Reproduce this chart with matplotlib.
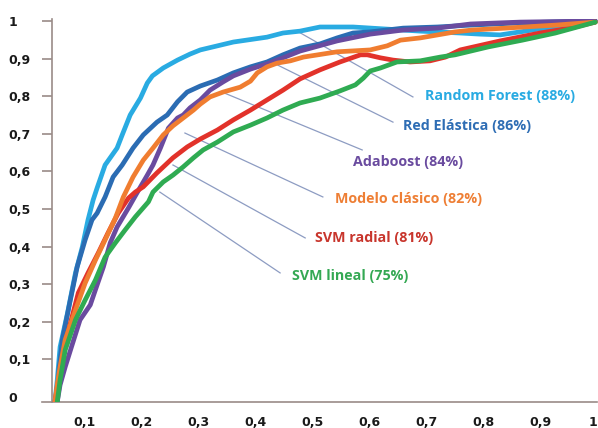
import matplotlib
matplotlib.use("Agg")
import matplotlib.pyplot as plt

# ROC curves (false positive rate, true positive rate)
rf_x = [0.049, 0.053, 0.058, 0.071, 0.085, 0.097, 0.107, 0.116, 0.123, 0.137, 0.158, 0.167, 0.181,
        0.199, 0.211, 0.220, 0.239, 0.264, 0.286, 0.304, 0.362, 0.421, 0.449, 0.479, 0.514, 0.572,
        0.625, 0.690, 0.760, 0.795, 0.830, 0.900, 0.997]
rf_y = [-0.013, 0.045, 0.133, 0.223, 0.330, 0.399, 0.471, 0.524, 0.556, 0.617, 0.662, 0.697, 0.750,
        0.795, 0.835, 0.854, 0.875, 0.896, 0.912, 0.923, 0.944, 0.957, 0.968, 0.973, 0.984, 0.984,
        0.979, 0.973, 0.968, 0.965, 0.963, 0.979, 0.997]

en_x = [0.053, 0.056, 0.062, 0.076, 0.088, 0.102, 0.114, 0.123, 0.137, 0.151, 0.167, 0.186, 0.204,
        0.228, 0.246, 0.264, 0.281, 0.304, 0.334, 0.362, 0.392, 0.421, 0.449, 0.479, 0.514, 0.544,
        0.572, 0.602, 0.660, 0.720, 0.778, 0.865, 0.997]
en_y = [-0.013, 0.072, 0.152, 0.258, 0.346, 0.418, 0.471, 0.489, 0.532, 0.585, 0.617, 0.662, 0.697,
        0.731, 0.750, 0.785, 0.811, 0.827, 0.843, 0.862, 0.878, 0.891, 0.910, 0.928, 0.939, 0.955,
        0.968, 0.971, 0.981, 0.984, 0.989, 0.995, 1.000]

ada_x = [0.053, 0.058, 0.067, 0.079, 0.093, 0.111, 0.120, 0.134, 0.146, 0.158, 0.178, 0.193, 0.211,
         0.221, 0.234, 0.248, 0.264, 0.274, 0.286, 0.304, 0.321, 0.344, 0.362, 0.392, 0.421, 0.449,
         0.479, 0.544, 0.602, 0.660, 0.720, 0.778, 0.865, 0.997]
ada_y = [-0.013, 0.032, 0.080, 0.138, 0.205, 0.245, 0.285, 0.346, 0.410, 0.452, 0.503, 0.543, 0.590,
         0.617, 0.662, 0.715, 0.742, 0.750, 0.769, 0.790, 0.816, 0.838, 0.854, 0.872, 0.886, 0.902,
         0.920, 0.947, 0.965, 0.976, 0.981, 0.992, 0.997, 1.000]

mc_x = [0.049, 0.053, 0.058, 0.067, 0.085, 0.102, 0.120, 0.137, 0.155, 0.169, 0.186, 0.204, 0.221,
        0.239, 0.256, 0.274, 0.292, 0.304, 0.321, 0.344, 0.374, 0.392, 0.404, 0.421, 0.439, 0.462,
        0.485, 0.544, 0.602, 0.632, 0.655, 0.690, 0.751, 0.781, 0.839, 0.927, 0.997]
mc_y = [-0.013, 0.032, 0.080, 0.152, 0.231, 0.303, 0.364, 0.418, 0.476, 0.532, 0.585, 0.630, 0.662,
        0.697, 0.721, 0.742, 0.763, 0.779, 0.798, 0.811, 0.824, 0.840, 0.862, 0.878, 0.888, 0.894,
        0.904, 0.918, 0.923, 0.934, 0.949, 0.955, 0.971, 0.976, 0.981, 0.989, 0.997]

svr_x = [0.049, 0.055, 0.062, 0.067, 0.079, 0.090, 0.107, 0.125, 0.142, 0.160, 0.178, 0.190, 0.204,
         0.228, 0.256, 0.281, 0.304, 0.334, 0.362, 0.392, 0.421, 0.449, 0.479, 0.514, 0.549, 0.585,
         0.597, 0.620, 0.642, 0.672, 0.707, 0.734, 0.760, 0.830, 0.900, 0.953, 0.997]
svr_y = [-0.013, 0.045, 0.098, 0.144, 0.213, 0.277, 0.330, 0.383, 0.436, 0.489, 0.529, 0.545, 0.559,
         0.596, 0.636, 0.665, 0.686, 0.710, 0.737, 0.763, 0.790, 0.816, 0.846, 0.870, 0.891, 0.910,
         0.910, 0.902, 0.896, 0.891, 0.894, 0.904, 0.923, 0.947, 0.968, 0.981, 0.997]

svl_x = [0.053, 0.058, 0.067, 0.085, 0.102, 0.120, 0.137, 0.155, 0.172, 0.190, 0.213, 0.221, 0.239,
         0.256, 0.274, 0.292, 0.309, 0.334, 0.362, 0.392, 0.421, 0.449, 0.479, 0.514, 0.549, 0.576,
         0.590, 0.602, 0.620, 0.649, 0.690, 0.725, 0.751, 0.809, 0.869, 0.927, 0.997]
svl_y = [-0.013, 0.045, 0.125, 0.205, 0.258, 0.311, 0.372, 0.410, 0.444, 0.479, 0.519, 0.545, 0.572,
         0.590, 0.612, 0.636, 0.657, 0.678, 0.705, 0.723, 0.742, 0.763, 0.782, 0.795, 0.814, 0.830,
         0.848, 0.867, 0.875, 0.891, 0.894, 0.904, 0.910, 0.931, 0.949, 0.968, 0.997]

labels = ["Random Forest (88%)", "Red Elástica (86%)", "Adaboost (84%)",
          "Modelo clásico (82%)", "SVM radial (81%)", "SVM lineal (75%)"]

x_ticks = [0.1, 0.2, 0.3, 0.4, 0.5, 0.6, 0.7, 0.8, 0.9, 1.0]
x_ticklabels = ["0,1", "0,2", "0,3", "0,4", "0,5", "0,6", "0,7", "0,8", "0,9", "1"]
y_ticks = [0, 0.1, 0.2, 0.3, 0.4, 0.5, 0.6, 0.7, 0.8, 0.9, 1.0]
y_ticklabels = ["0", "0,1", "0,2", "0,3", "0,4", "0,5", "0,6", "0,7", "0,8", "0,9", "1"]

line_colors = ["#29abe2", "#2b6cb3", "#6a4b9f", "#f07d30", "#e2322a", "#2fab52"]
text_colors = ["#29abe2", "#2e6db4", "#6a4b9f", "#ee7f35", "#c8352c", "#34a853"]

# leader line: start on curve, end near label, label anchor (left, centre)
leaders = [
    ((0.474, 0.973), (0.677, 0.798), (0.698, 0.801)),
    ((0.430, 0.890), (0.642, 0.731), (0.660, 0.721)),
    ((0.342, 0.811), (0.588, 0.657), (0.572, 0.625)),
    ((0.277, 0.702), (0.519, 0.532), (0.540, 0.527)),
    ((0.256, 0.617), (0.488, 0.423), (0.505, 0.423)),
    ((0.233, 0.545), (0.444, 0.330), (0.465, 0.322)),
]

fig = plt.figure(figsize=(5.98, 4.28), dpi=100)
ax = fig.add_axes([51.7 / 598, 25.7 / 428, 546.3 / 598, 383.2 / 428])

curves = [(rf_x, rf_y), (en_x, en_y), (ada_x, ada_y), (svr_x, svr_y), (mc_x, mc_y), (svl_x, svl_y)]
order_colors = [line_colors[0], line_colors[1], line_colors[2], line_colors[4], line_colors[3], line_colors[5]]
for (xs, ys), c in zip(curves, order_colors):
    ax.plot(xs, ys, color=c, lw=3.4, solid_capstyle="round", solid_joinstyle="round", zorder=3)

for (start, end, txt), lab, tc in zip(leaders, labels, text_colors):
    ax.plot([start[0], end[0]], [start[1], end[1]], color="#8d9cc2", lw=0.9, zorder=2)
    ax.text(txt[0], txt[1], lab, color=tc, fontsize=10.3, fontweight="bold",
            family=["Open Sans", "DejaVu Sans"], ha="left", va="center", zorder=4)

ax.set_xlim(0.0433, 1.0017)
ax.set_ylim(-0.0141, 1.005)

spine_col = "#9a8b88"
for s in ["top", "right"]:
    ax.spines[s].set_visible(False)
ax.spines["left"].set_color(spine_col)
ax.spines["bottom"].set_color(spine_col)
ax.spines["left"].set_linewidth(1.2)
ax.spines["bottom"].set_linewidth(1.2)
ax.spines["bottom"].set_bounds(0.026, 1.0)

ax.set_xticks(x_ticks)
ax.set_xticklabels(x_ticklabels)
ax.set_yticks(y_ticks)
ax.set_yticklabels(y_ticklabels)
ax.tick_params(axis="x", length=0, pad=10)
ax.tick_params(axis="y", length=7.2, width=1.2, color=spine_col, pad=23.8)
ax.yaxis.get_major_ticks()[0].tick1line.set_visible(False)
for t in ax.get_yticklabels():
    t.set_ha("left")
for t in ax.get_xticklabels() + ax.get_yticklabels():
    t.set_fontweight("bold")
    t.set_fontsize(9)
    t.set_color("#1a1a1a")
ax.get_xticklabels()[-1].set_ha("right")

fig.savefig("out.png", dpi=100)
